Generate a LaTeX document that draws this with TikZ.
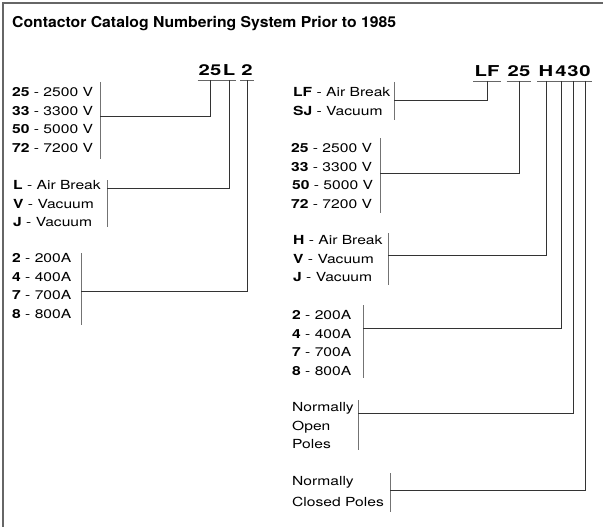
\documentclass[tikz,border=0pt]{standalone}
\usepackage{fontspec}
\newfontfamily\bodyfont[FakeStretch=1.25]{TeX Gyre Heros}
\newfontfamily\headfont[FakeStretch=1.35]{TeX Gyre Heros}
\newfontfamily\titlefont[FakeStretch=1.05]{TeX Gyre Heros}
\begin{document}
\begin{tikzpicture}[x=1pt,y=-1pt,
  lbl/.style={anchor=base west, inner sep=0pt, font=\bodyfont\fontsize{12.5}{14}\selectfont},
  seg/.style={anchor=base, inner sep=0pt, font=\headfont\bfseries\fontsize{15}{18}\selectfont},
  ttl/.style={anchor=base west, inner sep=0pt, font=\titlefont\bfseries\fontsize{15}{18}\selectfont},
  conn/.style={draw=black!80, line width=0.8pt},
  bar/.style={draw=black!55, line width=0.6pt},
  uline/.style={draw=black!60, line width=0.6pt},
  frame/.style={draw=black!60, line width=1.2pt}]
\useasboundingbox (0,0) rectangle (603,527);
% frame
\draw[frame] (3,527) -- (3,3) -- (603,3);
% title
\node[ttl] (title) at (12,27.5) {Contactor Catalog Numbering System Prior to 1985};

% ---------- left heading ----------
\node[seg] (h25) at (210,76) {25};
\node[seg] (hL) at (229,76) {L};
\node[seg] (h2) at (247,76) {2};

% left group 1
\node[lbl] (a1) at (12,96.5) {\textbf{25} - 2500 V};
\node[lbl] (a2) at (12,115.1) {\textbf{33} - 3300 V};
\node[lbl] (a3) at (12,133.7) {\textbf{50} - 5000 V};
\node[lbl] (a4) at (12,152.3) {\textbf{72} - 7200 V};
% left group 2
\node[lbl] (b1) at (13,189.5) {\textbf{L} - Air Break};
\node[lbl] (b2) at (13,208) {\textbf{V} - Vacuum};
\node[lbl] (b3) at (13,226.5) {\textbf{J} - Vacuum};
% left group 3
\node[lbl] (c1) at (12,262.5) {\textbf{2} - 200A};
\node[lbl] (c2) at (12,281) {\textbf{4} - 400A};
\node[lbl] (c3) at (12,299.5) {\textbf{7} - 700A};
\node[lbl] (c4) at (12,318) {\textbf{8} - 800A};

% left bars and junctions
\coordinate (j1) at (100,116);
\coordinate (j2) at (107,188);
\coordinate (j3) at (81,291);
\draw[bar] (100,82) -- (100,159);
\draw[bar] (107,180) -- (107,227);
\draw[bar] (81,253) -- (81,325);

\foreach \s in {h25,hL,h2}
  \draw[uline] ([yshift=-4pt,xshift=-1pt]\s.base west) -- ([yshift=-4pt,xshift=1pt]\s.base east);
\draw[conn] ([yshift=-4pt]h25.base) |- (j1);
\draw[conn] ([yshift=-4pt]hL.base) |- (j2);
\draw[conn] ([yshift=-4pt]h2.base) |- (j3);

% ---------- right heading ----------
\node[seg] (hLF) at (487,77) {LF};
\node[seg] (hR25) at (519,77) {25};
\node[seg] (hH) at (546,77) {H};
\node[seg] (h4) at (561,77) {4};
\node[seg] (h3) at (573,77) {3};
\node[seg] (h0) at (585,77) {0};

% right groups
\node[lbl] (d1) at (293,96.5) {\textbf{LF} - Air Break};
\node[lbl] (d2) at (293,115.5) {\textbf{SJ} - Vacuum};

\node[lbl] (e1) at (291,152.5) {\textbf{25} - 2500 V};
\node[lbl] (e2) at (291,171) {\textbf{33} - 3300 V};
\node[lbl] (e3) at (292,189.5) {\textbf{50} - 5000 V};
\node[lbl] (e4) at (291,208) {\textbf{72} - 7200 V};

\node[lbl] (f1) at (293,244.5) {\textbf{H} - Air Break};
\node[lbl] (f2) at (293,263) {\textbf{V} - Vacuum};
\node[lbl] (f3) at (293,281.5) {\textbf{J} - Vacuum};

\node[lbl] (g1) at (292,319.5) {\textbf{2} - 200A};
\node[lbl] (g2) at (292,338) {\textbf{4} - 400A};
\node[lbl] (g3) at (292,356.5) {\textbf{7} - 700A};
\node[lbl] (g4) at (292,375) {\textbf{8} - 800A};

\node[lbl] (k1) at (292,411.5) {Normally};
\node[lbl] (k2) at (292,430) {Open};
\node[lbl] (k3) at (292,448.5) {Poles};

\node[lbl] (m1) at (292,485.5) {Normally};
\node[lbl] (m2) at (292,506) {Closed Poles};

% right bars and junctions
\coordinate (jLF) at (394,100);
\coordinate (jR25) at (380,173);
\coordinate (jH) at (388,255);
\coordinate (j4) at (363,328);
\coordinate (j3b) at (358,413);
\coordinate (j0) at (390,490);
\draw[bar] (394,82) -- (394,120);
\draw[bar] (380,138) -- (380,213);
\draw[bar] (388,233) -- (388,285);
\draw[bar] (363,305) -- (363,378);
\draw[bar] (358,400) -- (358,450);
\draw[bar] (390,473) -- (390,512);

\foreach \s in {hLF,hR25,hH,h4,h3,h0}
  \draw[uline] ([yshift=-4pt,xshift=-1pt]\s.base west) -- ([yshift=-4pt,xshift=1pt]\s.base east);
\draw[conn] ([yshift=-4pt]hLF.base) |- (jLF);
\draw[conn] ([yshift=-4pt]hR25.base) |- (jR25);
\draw[conn] ([yshift=-4pt]hH.base) |- (jH);
\draw[conn] ([yshift=-4pt]h4.base) |- (j4);
\draw[conn] ([yshift=-4pt]h3.base) |- (j3b);
\draw[conn] ([yshift=-4pt]h0.base) |- (j0);
\end{tikzpicture}
\end{document}
